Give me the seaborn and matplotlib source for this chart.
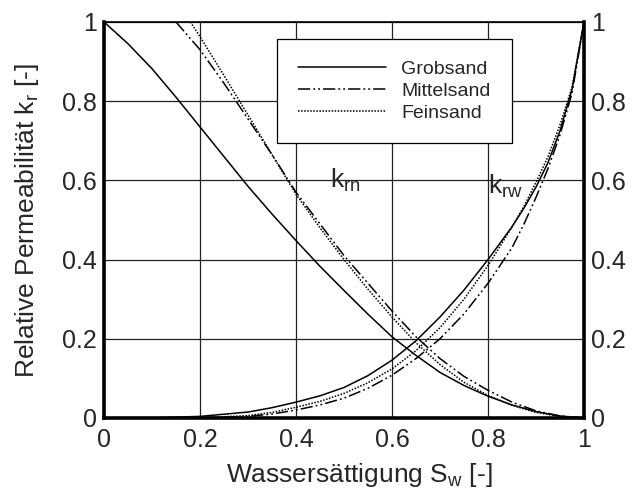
import numpy as np
import pandas as pd
import matplotlib
matplotlib.use("Agg")
import matplotlib.pyplot as plt
import seaborn as sns

# ---- data ----
sw_grob_n = [0.0, 0.05, 0.1, 0.15, 0.2, 0.25, 0.3, 0.35, 0.4, 0.45, 0.5, 0.55, 0.6, 0.65, 0.7, 0.75, 0.8, 0.85, 0.9, 0.95, 1.0]
kn_grob = [1.0, 0.945, 0.882, 0.81, 0.735, 0.66, 0.585, 0.515, 0.448, 0.383, 0.322, 0.262, 0.205, 0.158, 0.115, 0.082, 0.055, 0.033, 0.016, 0.005, 0.0]

sw_mittel_n = [0.15, 0.2, 0.25, 0.3, 0.35, 0.4, 0.45, 0.5, 0.55, 0.6, 0.65, 0.7, 0.75, 0.8, 0.85, 0.9, 0.95, 1.0]
kn_mittel = [1.0, 0.93, 0.845, 0.755, 0.665, 0.57, 0.49, 0.41, 0.34, 0.27, 0.205, 0.15, 0.105, 0.07, 0.04, 0.018, 0.005, 0.0]

sw_fein_n = [0.18, 0.2, 0.25, 0.3, 0.35, 0.4, 0.45, 0.5, 0.55, 0.6, 0.65, 0.7, 0.75, 0.8, 0.85, 0.9, 0.95, 1.0]
kn_fein = [1.0, 0.963, 0.865, 0.765, 0.665, 0.565, 0.48, 0.40, 0.325, 0.255, 0.19, 0.135, 0.09, 0.057, 0.032, 0.014, 0.004, 0.0]

sw_grob_w = [0.0, 0.1, 0.2, 0.3, 0.35, 0.4, 0.45, 0.5, 0.55, 0.6, 0.65, 0.7, 0.75, 0.8, 0.85, 0.875, 0.9, 0.925, 0.95, 0.975, 1.0]
kw_grob = [0.0, 0.0005, 0.004, 0.015, 0.026, 0.04, 0.056, 0.077, 0.107, 0.146, 0.195, 0.255, 0.323, 0.40, 0.483, 0.53, 0.583, 0.645, 0.725, 0.83, 1.0]

sw_mittel_w = [0.15, 0.2, 0.3, 0.35, 0.4, 0.45, 0.5, 0.55, 0.6, 0.65, 0.7, 0.75, 0.8, 0.85, 0.875, 0.9, 0.925, 0.95, 0.975, 1.0]
kw_mittel = [0.0, 0.0005, 0.004, 0.01, 0.02, 0.033, 0.05, 0.075, 0.108, 0.15, 0.20, 0.263, 0.34, 0.43, 0.49, 0.557, 0.63, 0.715, 0.82, 1.0]

sw_fein_w = [0.18, 0.2, 0.3, 0.35, 0.4, 0.45, 0.5, 0.55, 0.6, 0.65, 0.7, 0.75, 0.8, 0.85, 0.875, 0.9, 0.925, 0.95, 0.975, 1.0]
kw_fein = [0.0, 0.0005, 0.006, 0.014, 0.027, 0.042, 0.062, 0.089, 0.124, 0.17, 0.228, 0.3, 0.385, 0.482, 0.535, 0.595, 0.66, 0.74, 0.835, 1.0]

tick_vals = [0, 0.2, 0.4, 0.6, 0.8, 1]
tick_labels = ["0", "0.2", "0.4", "0.6", "0.8", "1"]
legend_names = ["Grobsand", "Mittelsand", "Feinsand"]

# ---- style ----
sns.set_style("white")
plt.rcParams['font.family'] = ['Liberation Sans', 'DejaVu Sans']
plt.rcParams['mathtext.fontset'] = 'custom'
plt.rcParams['mathtext.rm'] = 'Liberation Sans'
plt.rcParams['mathtext.it'] = 'Liberation Sans'

fig = plt.figure(figsize=(6.33, 4.95), dpi=100)
ax = fig.add_axes([0.1643, 0.1556, 0.9226 - 0.1643, 0.9556 - 0.1556])

styles = ["-", (0, (8, 2, 1.2, 2, 1.2, 2)), (0, (1, 1))]
n_sets = [(sw_grob_n, kn_grob), (sw_mittel_n, kn_mittel), (sw_fein_n, kn_fein)]
w_sets = [(sw_grob_w, kw_grob), (sw_mittel_w, kw_mittel), (sw_fein_w, kw_fein)]

handles = []
for (x, y), ls, name in zip(n_sets, styles, legend_names):
    sns.lineplot(x=x, y=y, ax=ax, color="black", linewidth=1.1, linestyle=ls, zorder=3)
    handles.append(ax.lines[-1])
for (x, y), ls in zip(w_sets, styles):
    sns.lineplot(x=x, y=y, ax=ax, color="black", linewidth=1.1, linestyle=ls, zorder=3)

ax.set_xlim(0, 1)
ax.set_ylim(0, 1)
ax.set_xticks(tick_vals)
ax.set_xticklabels(tick_labels)
ax.set_yticks(tick_vals)
ax.set_yticklabels(tick_labels)
ax.tick_params(axis='both', labelsize=18, length=0)
ax.tick_params(axis='x', pad=7)
ax.tick_params(axis='y', labelright=True, right=False, pad=5)
ax.grid(True, color="#222222", linewidth=0.9)
ax.set_axisbelow(True)

for side in ["left", "bottom", "right"]:
    ax.spines[side].set_linewidth(2.6)
    ax.spines[side].set_color("black")
ax.spines["top"].set_linewidth(1.2)
ax.spines["top"].set_color("black")

ax.set_xlabel(r"Wassersättigung S$_\mathrm{w}$ [-]", fontsize=19, labelpad=7)
ax.xaxis.label.set_x(0.531)
ax.set_ylabel(r"Relative Permeabilität k$_\mathrm{r}$ [-]", fontsize=19, labelpad=15)

ax.text(0.47, 0.60, r"k$_\mathrm{rn}$", fontsize=19, ha="left", va="center")
ax.text(0.80, 0.585, r"k$_\mathrm{rw}$", fontsize=19, ha="left", va="center")

leg = ax.legend(handles, legend_names, loc="upper left", bbox_to_anchor=(0.360, 0.957),
                fontsize=14, frameon=True, fancybox=False, edgecolor="black",
                framealpha=1, handlelength=4.5, handletextpad=0.8, borderpad=1.1,
                labelspacing=0.22, borderaxespad=0)
leg.get_frame().set_linewidth(0.9)

fig.savefig("out.png", dpi=100)
